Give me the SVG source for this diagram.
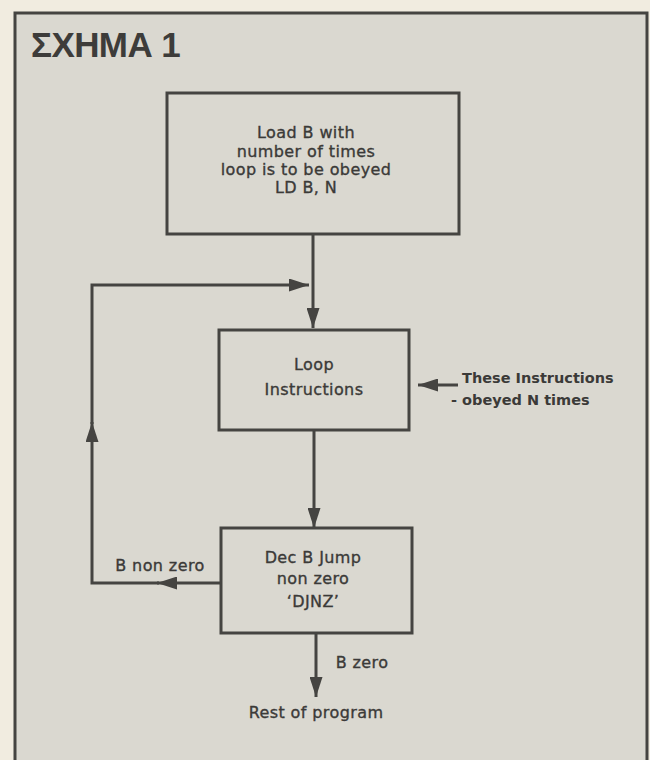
<svg xmlns="http://www.w3.org/2000/svg" width="650" height="760" viewBox="0 0 650 760">
<style>
.box{fill:#dad8d0;stroke:#454441;stroke-width:3}
.t{font-family:"DejaVu Sans",sans-serif;font-size:16px;fill:#3b3a38;text-anchor:middle;letter-spacing:0.4px;stroke:#3b3a38;stroke-width:0.35}
.tb{font-family:"DejaVu Sans",sans-serif;font-size:14.5px;font-weight:bold;fill:#3b3a38}
.c{fill:none;stroke:#454441;stroke-width:3}
</style>
<defs>
<marker id="ah" viewBox="0 0 20 13" refX="20" refY="6.5" markerWidth="20" markerHeight="13" markerUnits="userSpaceOnUse" orient="auto">
<path d="M0,0 L20,6.5 L0,13 z" fill="#454441"/>
</marker>
</defs>
<rect x="0" y="0" width="650" height="760" fill="#f1ece0"/>
<rect x="15" y="13" width="632" height="760" fill="#dad8d0" stroke="#454441" stroke-width="3"/>
<text x="31" y="57" font-family="Liberation Sans, Arial, sans-serif" font-size="35" font-weight="bold" fill="#3d3c3a" letter-spacing="-0.6">ΣΧΗΜΑ 1</text>

<g id="connectors">
<path class="c" d="M313,234 V328" marker-end="url(#ah)"/>
<path class="c" d="M314,430 V528" marker-end="url(#ah)"/>
<path class="c" d="M316,633 V697" marker-end="url(#ah)"/>
<path class="c" d="M221,583 H157" marker-end="url(#ah)"/>
<path class="c" d="M159,583 H92 V422" marker-end="url(#ah)"/>
<path class="c" d="M92,424 V285 H309" marker-end="url(#ah)"/>
<path class="c" d="M458,385 H418" marker-end="url(#ah)"/>
</g>

<g id="load">
<rect class="box" x="167" y="93" width="292" height="141"/>
<text class="t" x="306" y="138">Load B with</text>
<text class="t" x="306" y="157">number of times</text>
<text class="t" x="306" y="175">loop is to be obeyed</text>
<text class="t" x="306" y="193">LD B, N</text>
</g>

<g id="loop">
<rect class="box" x="219" y="330" width="190" height="100"/>
<text class="t" x="314" y="370">Loop</text>
<text class="t" x="314" y="395">Instructions</text>
</g>

<g id="note">
<text class="tb" x="462" y="383">These Instructions</text>
<text class="tb" x="451" y="405">- obeyed N times</text>
</g>

<g id="djnz">
<rect class="box" x="221" y="528" width="191" height="105"/>
<text class="t" x="313" y="563">Dec B Jump</text>
<text class="t" x="313" y="584">non zero</text>
<text class="t" x="313" y="607">‘DJNZ’</text>
</g>

<g id="labels">
<text class="t" x="160" y="571">B non zero</text>
<text class="t" x="362" y="668">B zero</text>
<text class="t" x="316" y="718">Rest of program</text>
</g>
</svg>
